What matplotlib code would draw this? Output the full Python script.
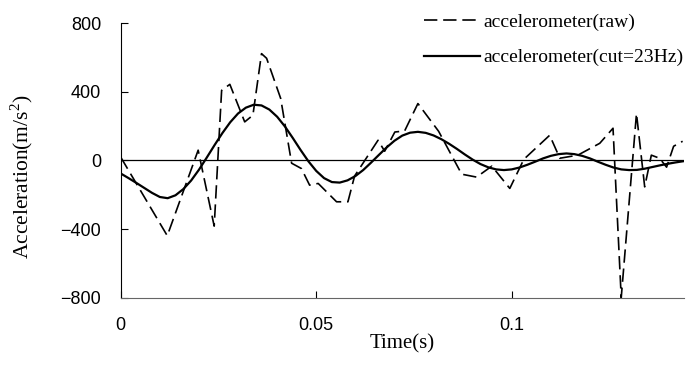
import matplotlib
matplotlib.use("Agg")
import matplotlib.pyplot as plt

# Raw accelerometer trace (vertices)
t_raw = [0.0, 0.0119, 0.0198, 0.0239, 0.0258, 0.0279, 0.0317, 0.0338, 0.0360, 0.0373,
         0.0409, 0.0437, 0.0462, 0.0483, 0.0505, 0.0552, 0.0581, 0.0598, 0.0658, 0.0675,
         0.0701, 0.0726, 0.0760, 0.0813, 0.0872, 0.0910, 0.0949, 0.0995, 0.1031, 0.1097,
         0.1123, 0.1169, 0.1225, 0.1259, 0.1280, 0.1319, 0.1340, 0.1357, 0.1378, 0.1396,
         0.1414, 0.1437]
a_raw = [19, -439, 60, -383, 409, 444, 225, 264, 623, 596,
         362, -16, -47, -144, -134, -241, -241, -91, 118, 54,
         166, 172, 332, 170, -80, -97, -33, -163, 7, 147,
         13, 31, 100, 188, -800, 274, -154, 31, 13, -39,
         83, 112]

# Low-pass filtered trace (cut = 23 Hz), sampled every 2 ms
t_cut = [i * 0.002 for i in range(73)]
a_cut = [-76, -103, -131, -160, -189, -213, -220, -203, -167, -117,
         -54, 17, 90, 160, 223, 274, 308, 325, 321, 297,
         255, 198, 131, 61, -5, -61, -103, -126, -129, -116,
         -91, -56, -13, 32, 76, 115, 145, 162, 167, 161,
         146, 124, 97, 67, 35, 5, -21, -40, -52, -56,
         -52, -41, -25, -7, 12, 27, 37, 41, 37, 27,
         12, -7, -25, -41, -52, -56, -55, -48, -38, -28,
         -19, -11, -4]

x_ticks = [0, 0.05, 0.1]
x_labels = ["0", "0.05", "0.1"]
y_ticks = [-800, -400, 0, 400, 800]
y_labels = ["\u2212800", "\u2212400", "0", "400", "800"]

plt.rcParams["font.family"] = "Liberation Sans"
plt.rcParams["mathtext.fontset"] = "custom"
plt.rcParams["mathtext.rm"] = "Liberation Serif"

fig = plt.figure(figsize=(6.9, 3.67), dpi=100)
ax = fig.add_axes([0.175, 0.189, 0.816, 0.7475])

ax.axhline(0, color="black", lw=0.9, zorder=1)
ax.plot(t_raw, a_raw, color="black", lw=1.2, linestyle=(0, (8, 3.5)),
        label="accelerometer(raw)", zorder=3)
ax.plot(t_cut, a_cut, color="black", lw=1.6, label="accelerometer(cut=23Hz)", zorder=2)

ax.set_xlim(0, 0.144)
ax.set_ylim(-800, 800)
ax.set_xticks(x_ticks)
ax.set_xticklabels(x_labels)
ax.set_yticks(y_ticks)
ax.set_yticklabels(y_labels)
ax.tick_params(direction="in", length=5, labelsize=13, pad=14)

ax.spines["top"].set_visible(False)
ax.spines["right"].set_visible(False)
ax.spines["bottom"].set_color("#666666")

ax.set_xlabel("Time(s)", family="Liberation Serif", fontsize=15, labelpad=0)
ax.set_ylabel("Acceleration(m/s$^{\\mathrm{2}}$)", family="Liberation Serif", fontsize=15.5)
ax.yaxis.set_label_coords(-0.152, 0.442)

fig.legend(loc="upper right", bbox_to_anchor=(0.99, 0.963), frameon=False,
           prop={"family": "Liberation Serif", "size": 14},
           handlelength=2.9, handletextpad=0.15, labelspacing=0.9,
           borderpad=0, borderaxespad=0)

fig.savefig("out.png", dpi=100)
